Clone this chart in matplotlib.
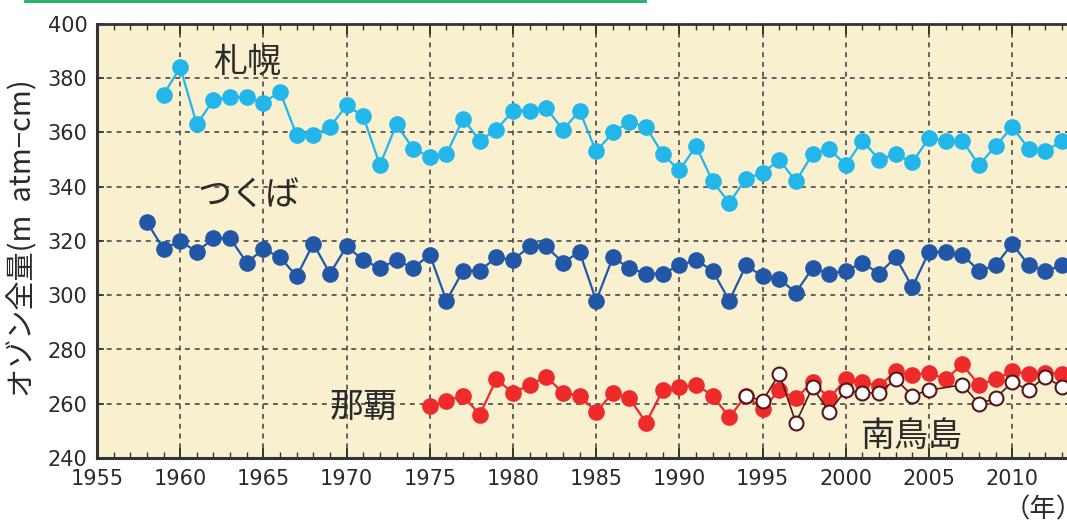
import numpy as np
import matplotlib
matplotlib.use("Agg")
import matplotlib.pyplot as plt
from matplotlib.lines import Line2D
from matplotlib.ticker import MultipleLocator

plt.rcParams['font.family'] = ['Noto Sans CJK JP', 'DejaVu Sans']

# Annual mean total ozone (m atm-cm)
sapporo_years = list(range(1959, 2014))
sapporo = [374, 384, 363, 372, 373, 373, 371, 375, 359, 359,
           362, 370, 366, 348, 363, 354, 351, 352, 365, 357,
           361, 368, 368, 369, 361, 368, 353, 360, 364, 362,
           352, 346, 355, 342, 334, 343, 345, 350, 342, 352,
           354, 348, 357, 350, 352, 349, 358, 357, 357, 348,
           355, 362, 354, 353, 357]

tsukuba_years = list(range(1958, 2014))
tsukuba = [327, 317, 320, 316, 321, 321, 312, 317, 314, 307,
           319, 308, 318, 313, 310, 313, 310, 315, 298, 309,
           309, 314, 313, 318, 318, 312, 316, 298, 314, 310,
           308, 308, 311, 313, 309, 298, 311, 307, 306, 301,
           310, 308, 309, 312, 308, 314, 303, 316, 316, 315,
           309, 311, 319, 311, 309, 311]

naha_years = list(range(1975, 2014))
naha = [259, 261, 263, 256, 269, 264, 267, 270, 264, 263,
        257, 264, 262, 253, 265, 266, 267, 263, 255, 263,
        258, 265, 262, 268, 262, 269, 268, 266.5, 272, 270.5,
        271.5, 269, 274.5, 267, 269, 272, 271, 271.5, 271]

minamitori_years = [1994, 1995, 1996, 1997, 1998, 1999, 2000, 2001, 2002,
                    2003, 2004, 2005, 2007, 2008, 2009, 2010, 2011, 2012, 2013]
minamitori = [263, 261, 271, 253, 266, 257, 265, 264, 264,
              269, 263, 265, 267, 260, 262, 268, 265, 270, 266]

year_ticks = list(range(1955, 2011, 5))

W, H = 1067, 522
fig = plt.figure(figsize=(W / 100, H / 100), dpi=100)
fig.patch.set_facecolor('white')

px_per_year = 16.64
left_px, top_px, bottom_px = 97, 24, 458
x0, x1 = 1955, 2016
ax_w = (x1 - x0) * px_per_year / W
ax = fig.add_axes([left_px / W, 1 - bottom_px / H, ax_w, (bottom_px - top_px) / H])
ax.set_facecolor('#f9f0d0')
ax.set_xlim(x0, x1)
ax.set_ylim(240, 400)

ax.xaxis.set_minor_locator(MultipleLocator(1))
ax.yaxis.set_major_locator(MultipleLocator(20))
ax.set_xticks(year_ticks)
ax.set_xticklabels([str(y) for y in year_ticks])

# dashed grid
ax.grid(True, which='major', color='#3a3a3a', linestyle=(0, (3.2, 3.2)), linewidth=1.1)
ax.set_axisbelow(True)

ax.tick_params(axis='x', which='major', direction='in', length=7, width=1.4,
               color='#333333', top=True, bottom=True, labelsize=15, pad=8,
               labelcolor='#2a2a2a')
ax.tick_params(axis='x', which='minor', direction='in', length=4, width=1.0,
               color='#333333', top=True, bottom=True)
ax.tick_params(axis='y', which='major', direction='in', length=5, width=1.2,
               color='#333333', labelsize=15, pad=7, labelcolor='#2a2a2a')
for lab in ax.get_xticklabels() + ax.get_yticklabels():
    lab.set_family(['DejaVu Sans'])

for side in ('left', 'bottom', 'top'):
    ax.spines[side].set_color('#333333')
ax.spines['left'].set_linewidth(2.2)
ax.spines['bottom'].set_linewidth(2.2)
ax.spines['top'].set_linewidth(2.0)
ax.spines['right'].set_visible(False)

# series
ax.plot(sapporo_years, sapporo, '-o', color='#22b6ea', lw=1.6, ms=12,
        markeredgewidth=0, zorder=3)
ax.plot(tsukuba_years, tsukuba, '-o', color='#2256a6', lw=1.6, ms=12,
        markeredgewidth=0, zorder=3)
ax.plot(naha_years, naha, '-o', color='#ee2a2a', lw=1.6, ms=12,
        markeredgewidth=0, zorder=3)
ax.plot(minamitori_years, minamitori, '-o', color='#5a1518', lw=1.2, ms=10,
        markerfacecolor='white', markeredgecolor='#5a1518', markeredgewidth=1.5,
        zorder=4)

# station names
lab_kw = dict(fontsize=24.5, color='#2a2a2a', ha='center', va='center')
ax.text(1964.0, 386, '札幌', **lab_kw)
ax.text(1964.1, 336.5, 'つくば', **lab_kw)
ax.text(1971.0, 258.5, '那覇', **lab_kw)
ax.text(2004.0, 247.8, '南鳥島', **lab_kw)

fig.text(23 / W, 1 - 238 / H, 'オゾン全量(m  atm−cm)', fontsize=21,
         color='#2a2a2a', rotation=90, ha='center', va='center')

fig.text(1004 / W, 1 - 510 / H, '（年）', fontsize=19, color='#2a2a2a',
         ha='left', va='center')

# decorative rule along the top edge
fig.add_artist(Line2D([25 / W, 645 / W], [1 - 1 / H, 1 - 1 / H],
                      color='#1aae5c', lw=2.0, transform=fig.transFigure))

fig.savefig('out.png', dpi=100)
